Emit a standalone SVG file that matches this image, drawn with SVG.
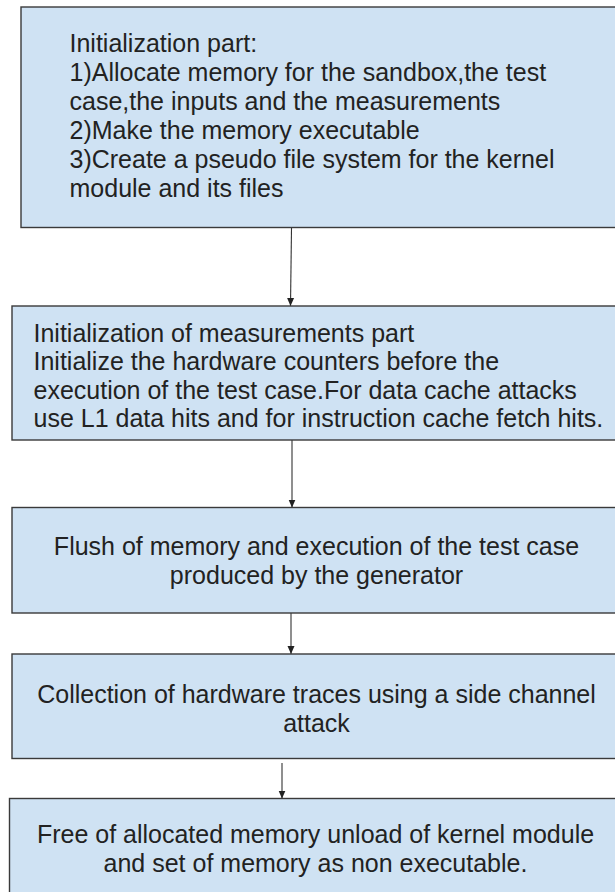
<svg xmlns="http://www.w3.org/2000/svg" width="615" height="892" viewBox="0 0 615 892">
  <style>
    .box { fill: #cfe2f3; stroke: #3a3a3a; stroke-width: 1.4; }
    .txt { font-family: "Liberation Sans", Arial, sans-serif; font-size: 25px; fill: #222222; }
    .mid { text-anchor: middle; }
    .edge { stroke: #333333; stroke-width: 1.1; fill: none; marker-end: url(#head); }
  </style>
  <defs>
    <marker id="head" viewBox="0 0 8 10" refX="8" refY="5" markerWidth="8" markerHeight="10" markerUnits="userSpaceOnUse" orient="auto">
      <path d="M0,1.5 L8,5 L0,8.5 Z" fill="#222222"/>
    </marker>
  </defs>

  <rect width="615" height="892" fill="#ffffff"/>

  <g id="connectors">
    <line class="edge" x1="291.5" y1="228" x2="290.5" y2="306"/>
    <line class="edge" x1="292" y1="440" x2="292" y2="507.5"/>
    <line class="edge" x1="291" y1="613" x2="291" y2="654"/>
    <line class="edge" x1="282" y1="763" x2="282" y2="798.5"/>
  </g>

  <g id="init">
    <rect class="box" x="21" y="7" width="602" height="220.5"/>
    <text class="txt" x="69.5" y="51.5">Initialization part:</text>
    <text class="txt" x="69.5" y="80.5">1)Allocate memory for the sandbox,the test</text>
    <text class="txt" x="69.5" y="109.5">case,the inputs and the measurements</text>
    <text class="txt" x="69.5" y="138.5">2)Make the memory executable</text>
    <text class="txt" x="69.5" y="167.5">3)Create a pseudo file system for the kernel</text>
    <text class="txt" x="69.5" y="196.5">module and its files</text>
  </g>

  <g id="measure-init">
    <rect class="box" x="12" y="306" width="611" height="134"/>
    <text class="txt" x="33.5" y="341.5">Initialization of measurements part</text>
    <text class="txt" x="33.5" y="370">Initialize the hardware counters before the</text>
    <text class="txt" x="33.5" y="398.5">execution of the test case.For data cache attacks</text>
    <text class="txt" x="33.5" y="427">use L1 data hits and for instruction cache fetch hits.</text>
  </g>

  <g id="flush-exec">
    <rect class="box" x="12" y="507.5" width="609" height="105.5"/>
    <text class="txt mid" x="316.5" y="554.5">Flush of memory and execution of the test case</text>
    <text class="txt mid" x="316.5" y="584">produced by the generator</text>
  </g>

  <g id="collect">
    <rect class="box" x="12" y="654" width="609" height="104.5"/>
    <text class="txt mid" x="316.5" y="703">Collection of hardware traces using a side channel</text>
    <text class="txt mid" x="316.5" y="731.5">attack</text>
  </g>

  <g id="cleanup">
    <rect class="box" x="9.5" y="798.5" width="612" height="110"/>
    <text class="txt mid" x="315.5" y="843">Free of allocated memory unload of kernel module</text>
    <text class="txt mid" x="315.5" y="871.5">and set of memory as non executable.</text>
  </g>
</svg>
